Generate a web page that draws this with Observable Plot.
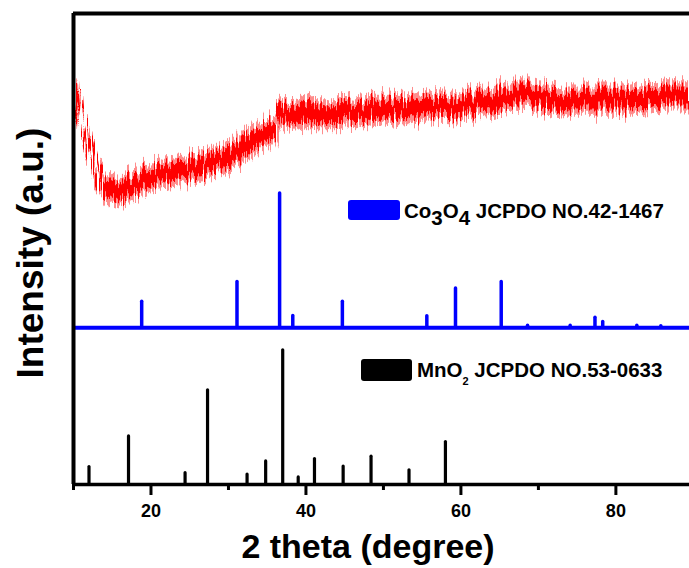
<!DOCTYPE html>
<html>
<head>
<meta charset="utf-8">
<script src="https://cdn.jsdelivr.net/npm/d3@7"></script>
<script src="https://cdn.jsdelivr.net/npm/@observablehq/plot@0.6"></script>
<style>
  html, body { margin: 0; padding: 0; background: #fff; }
  #chart { width: 689px; height: 568px; overflow: hidden; }
</style>
</head>
<body>
<div id="chart"></div>
<script>
const redTheta = [10.0,10.5,10.9,11.5,12.2,12.8,13.5,14.3,15.1,16.0,
  17.3,18.6,19.9,21.2,22.5,23.8,25.1,26.4,27.7,28.9,
  30.0,31.3,32.6,33.9,35.2,35.9,36.8,37.3,38.6,40.3,
  42.0,43.8,45.5,47.2,48.9,50.4,53.0,55.5,58.1,60.7,
  63.3,65.0,66.8,68.5,70.6,72.5,74.1,76.7,79.3,81.9,
  84.5,87.1,89.5];
const redIntensity = [851,830,783,737,709,673,645,628,624,620,
  631,641,652,656,660,662,673,677,684,688,
  694,709,724,735,747,752,786,788,786,784,
  784,784,788,790,794,798,794,798,800,805,
  811,819,830,830,822,819,815,815,815,815,
  822,826,826];
const redCoreSpread = 18;   // half width of the dense noise band
const redOuterSpread = 31;  // half width of the noise spikes

// ---- Co3O4 reference pattern (JCPDS 42-1467) ----
const co3Offset = 333;
const co3Theta = [18.8,31.1,36.6,38.3,44.7,55.6,59.3,65.2,68.6,74.1,77.3,78.3,82.7,85.8];
const co3Height = [55,97,285,25,55,24,83,97,4,4,21,12,4,3];

// ---- MnO2 reference pattern (JCPDS 53-0633) ----
const mnTheta = [12.0,17.1,24.4,27.3,32.4,34.8,37.0,39.0,41.1,44.8,48.4,53.3,58.0];
const mnHeight = [37,102,24,200,21,49,285,15,54,38,59,30,90];

const xMajorTicks = [20,40,60,80];
const xMinorTicks = [10,30,50,70];

const red = redTheta.map((t,i) => ({theta: t, I: redIntensity[i]}));
const co3 = co3Theta.map((t,i) => ({theta: t, h: co3Height[i]}));
const mn = mnTheta.map((t,i) => ({theta: t, h: mnHeight[i]}));

const FONT = "'Liberation Sans', Arial, Helvetica, sans-serif";

const plot = Plot.plot({
  width: 689,
  height: 568,
  marginLeft: 73,
  marginRight: 0,
  marginTop: 13,
  marginBottom: 84,
  style: {fontFamily: FONT, background: "#fff", color: "#000", overflow: "visible"},
  x: {domain: [10, 89.5]},
  y: {domain: [0, 1000], axis: null},
  marks: [
    Plot.areaY(red, {x: "theta", y1: d => d.I - redOuterSpread, y2: d => d.I + redOuterSpread, fill: "#ff0000", fillOpacity: 0.45}),
    Plot.areaY(red, {x: "theta", y1: d => d.I - redCoreSpread, y2: d => d.I + redCoreSpread, fill: "#ff0000"}),
    Plot.ruleY([co3Offset], {stroke: "#0000ff", strokeWidth: 4}),
    Plot.ruleX(co3, {x: "theta", y1: co3Offset, y2: d => co3Offset + d.h, stroke: "#0000ff", strokeWidth: 3.5, strokeLinecap: "round"}),
    Plot.ruleX(mn, {x: "theta", y1: 0, y2: d => d.h, stroke: "#000", strokeWidth: 3.2, strokeLinecap: "round"}),
    Plot.ruleX([10], {stroke: "#000", strokeWidth: 4}),
    Plot.ruleY([1000], {stroke: "#000", strokeWidth: 4}),
    Plot.ruleY([0], {stroke: "#000", strokeWidth: 3.5}),
    Plot.axisX(xMajorTicks, {tickSize: 11, tickPadding: 9, strokeWidth: 3, fontSize: 18, fontWeight: "bold", label: null}),
    Plot.axisX(xMinorTicks, {tickSize: 6, tickFormat: () => "", strokeWidth: 3, label: null})
  ]
});

document.getElementById("chart").appendChild(plot);

const svg = d3.select(plot);

// noisy texture for the measured pattern (rendering style only)
const defs = svg.insert("defs", ":first-child");
const f = defs.append("filter").attr("id", "xrdNoise")
  .attr("x", "0%").attr("y", "-40%").attr("width", "100%").attr("height", "180%");
f.append("feTurbulence").attr("type", "fractalNoise").attr("baseFrequency", "0.55 0.015")
  .attr("numOctaves", 2).attr("seed", 3).attr("result", "n");
f.append("feDisplacementMap").attr("in", "SourceGraphic").attr("in2", "n")
  .attr("scale", 30).attr("xChannelSelector", "B").attr("yChannelSelector", "G");
svg.selectAll('g[aria-label="area"]').attr("filter", "url(#xrdNoise)");

// ---- titles and legend entries ----
svg.append("text")
  .attr("x", 368).attr("y", 558)
  .attr("text-anchor", "middle")
  .attr("font-family", FONT).attr("font-weight", "bold").attr("font-size", 34)
  .attr("fill", "#000")
  .text("2 theta (degree)");

svg.append("text")
  .attr("transform", "translate(43,253) rotate(-90)")
  .attr("text-anchor", "middle")
  .attr("font-family", FONT).attr("font-weight", "bold").attr("font-size", 37)
  .attr("fill", "#000")
  .text("Intensity (a.u.)");

// Co3O4 legend
svg.append("rect").attr("x", 348).attr("y", 200).attr("width", 52).attr("height", 20).attr("rx", 3).attr("fill", "#0000ff");
const t1 = svg.append("text").attr("x", 404).attr("y", 218).attr("text-anchor", "start")
  .attr("font-family", FONT).attr("font-weight", "bold").attr("font-size", 20.5).attr("fill", "#000")
  .style("white-space", "pre");
t1.append("tspan").text("Co");
t1.append("tspan").attr("dy", 7).text("3");
t1.append("tspan").attr("dy", -7).text("O");
t1.append("tspan").attr("dy", 7).text("4");
t1.append("tspan").attr("dy", -7).text(" JCPDO NO.42-1467");

// MnO2 legend
svg.append("rect").attr("x", 361).attr("y", 359).attr("width", 51).attr("height", 22).attr("rx", 3).attr("fill", "#000");
const t2 = svg.append("text").attr("x", 417).attr("y", 377).attr("text-anchor", "start")
  .attr("font-family", FONT).attr("font-weight", "bold").attr("font-size", 20.5).attr("fill", "#000")
  .style("white-space", "pre");
t2.append("tspan").text("MnO");
t2.append("tspan").attr("dy", 8).attr("font-size", 11).text("2");
t2.append("tspan").attr("dy", -8).attr("font-size", 20.5).text(" JCPDO NO.53-0633");
</script>
</body>
</html>
